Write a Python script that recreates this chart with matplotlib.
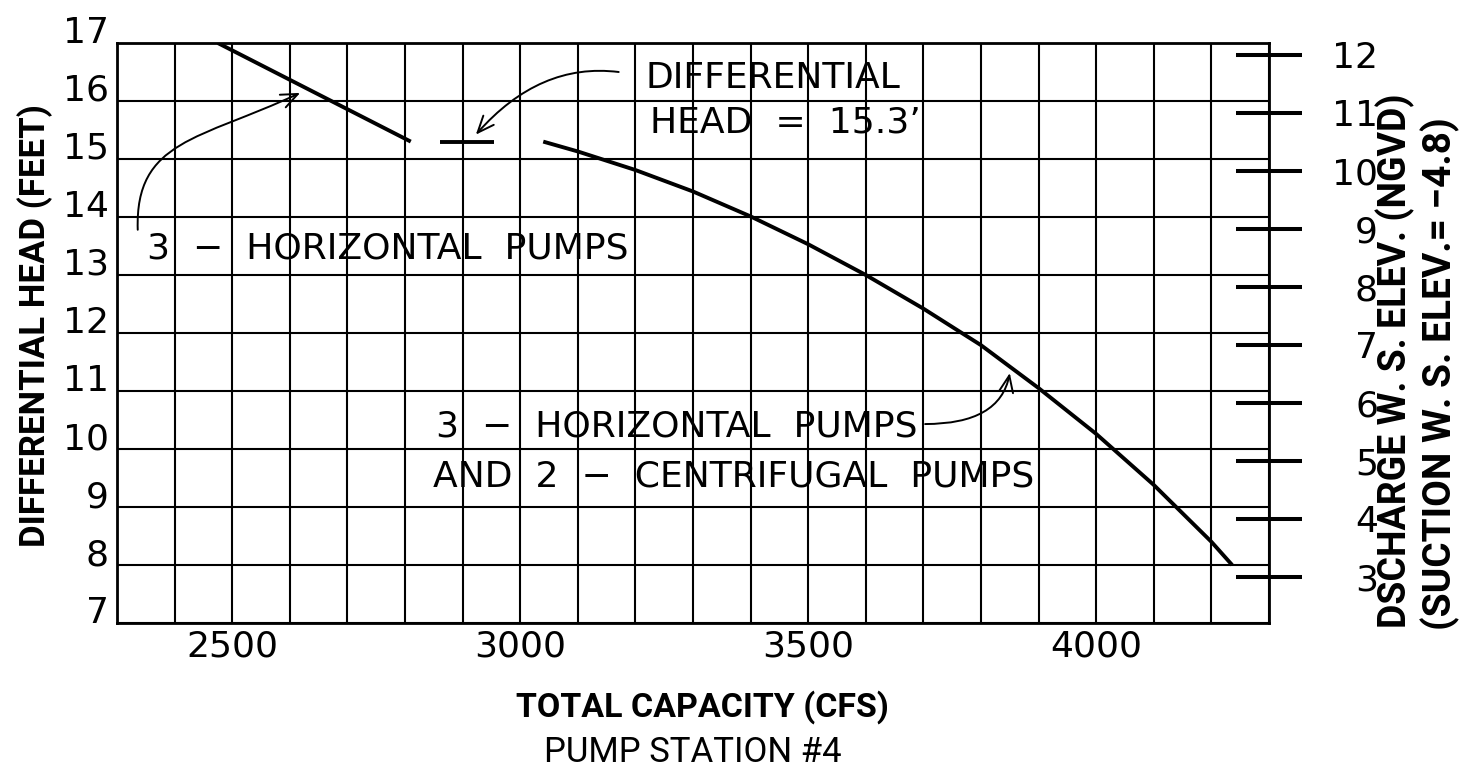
import numpy as np
import matplotlib
matplotlib.use('Agg')
import matplotlib.pyplot as plt
from matplotlib.path import Path
from matplotlib.patches import FancyArrowPatch

# pump curves (capacity in cfs, head in feet)
q_horiz = [2475, 2810]
h_horiz = [17.0, 15.3]

q_combo = [3040, 3100, 3200, 3300, 3400, 3500, 3600, 3700, 3800, 3900, 4000, 4100, 4200, 4236]
h_combo = [15.30, 15.13, 14.81, 14.44, 14.01, 13.53, 13.00, 12.42, 11.79, 11.05, 10.26, 9.38, 8.40, 8.00]

# differential head marker
q_design = [2860, 2955]
h_design = [15.3, 15.3]

x_grid = list(range(2300, 4301, 100))
x_labels = ['2500', '3000', '3500', '4000']
y_ticks = list(range(7, 18))
elev_ticks = list(range(3, 13))
suction_elev = -4.8

title_font = ['Roboto', 'DejaVu Sans']

fig = plt.figure(figsize=(14.66, 7.74), dpi=100)
ax = fig.add_axes([117 / 1466, 1 - 623 / 774, 1152 / 1466, 580 / 774])

ax.set_xlim(2300, 4300)
ax.set_ylim(7, 17)
ax.set_xticks(x_grid)
ax.set_xticklabels([str(q) if str(q) in x_labels else '' for q in x_grid])
ax.set_yticks(y_ticks)
ax.set_yticklabels([str(v) for v in y_ticks])
ax.grid(True, color='black', linewidth=1.5)
ax.tick_params(length=0, labelsize=26, colors='black')
ax.tick_params(axis='x', pad=5)
ax.tick_params(axis='y', pad=6)
for lab in ax.get_yticklabels():
    lab.set_verticalalignment('baseline')
for s in ax.spines.values():
    s.set_linewidth(2)
    s.set_color('black')

# right axis: discharge water surface elevation
ax2 = ax.twinx()
ax2.set_ylim(7 + suction_elev, 17 + suction_elev)
ax2.set_yticks(elev_ticks)
ax2.set_yticklabels([str(v) for v in elev_ticks])
ax2.tick_params(axis='y', direction='inout', length=47, width=2.9,
                labelsize=26, pad=55)
for lab in ax2.get_yticklabels():
    lab.set_horizontalalignment('right')
for s in ['left', 'right', 'top', 'bottom']:
    ax2.spines[s].set_visible(False)

ax.plot(q_horiz, h_horiz, color='black', linewidth=2.8, solid_capstyle='butt')
ax.plot(q_combo, h_combo, color='black', linewidth=2.8, solid_capstyle='butt',
        solid_joinstyle='round')
ax.plot(q_design, h_design, color='black', linewidth=2.8, solid_capstyle='butt')

# notes on the chart
txt = dict(fontsize=26, color='black', ha='left', va='baseline')
ax.text(2352, 13.28, '3  \u2212  HORIZONTAL  PUMPS', **txt)
ax.text(3217, 16.22, 'DIFFERENTIAL', **txt)
ax.text(3225, 15.45, 'HEAD  =  15.3\u2019', **txt)
ax.text(2854, 10.21, '3  \u2212  HORIZONTAL  PUMPS', **txt)
ax.text(2849, 9.36, 'AND  2  \u2212  CENTRIFUGAL  PUMPS', **txt)


def arrow(verts, codes):
    p = FancyArrowPatch(path=Path(verts, codes), arrowstyle='->,head_length=0.6,head_width=0.25',
                        mutation_scale=20, color='black', linewidth=1.4,
                        transform=ax.transData)
    ax.add_patch(p)


arrow([(2336, 13.78), (2331, 15.33), (2444, 15.33), (2618, 16.14)],
      [Path.MOVETO, Path.CURVE4, Path.CURVE4, Path.CURVE4])
arrow([(3171, 16.5), (3034, 16.67), (2923, 15.42)],
      [Path.MOVETO, Path.CURVE3, Path.CURVE3])
arrow([(3703, 10.43), (3833, 10.43), (3850, 11.31)],
      [Path.MOVETO, Path.CURVE3, Path.CURVE3])

# axis titles
fig.text(35 / 1466, 1 - 326 / 774, 'DIFFERENTIAL HEAD (FEET)', rotation=90,
         ha='center', va='center', fontsize=25, fontweight='bold', family=title_font)
fig.text(1395 / 1466, 1 - 628 / 774, 'DSCHARGE W. S. ELEV. (NGVD)', rotation=90,
         ha='center', va='bottom', fontsize=27, fontweight='bold', family=title_font)
fig.text(1440 / 1466, 1 - 630 / 774, '(SUCTION W. S. ELEV.= \u22124.8)', rotation=90,
         ha='center', va='bottom', fontsize=28, fontweight='bold', family=title_font)
fig.text(702 / 1466, 1 - 707 / 774, 'TOTAL CAPACITY (CFS)', ha='center', va='center',
         fontsize=24.5, fontweight='bold', family=title_font)
fig.text(693 / 1466, 1 - 752 / 774, 'PUMP STATION #4', ha='center', va='center',
         fontsize=25, family=title_font)

fig.savefig('out.png', dpi=100)
